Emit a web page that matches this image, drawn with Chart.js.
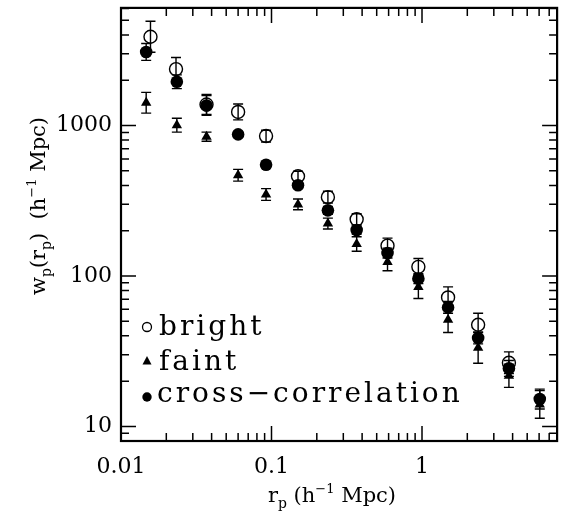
<!DOCTYPE html>
<html>
<head>
<meta charset="utf-8">
<script src="https://cdn.jsdelivr.net/npm/chart.js@4.4.1/dist/chart.umd.min.js"></script>
<style>
  html, body { margin: 0; padding: 0; background: #fff; }
  canvas { display: block; }
</style>
</head>
<body>
<canvas id="wp-chart" width="565" height="518"></canvas>
<script>
// projected separation bins (h^-1 Mpc)
var rp = [0.0147, 0.0235, 0.037, 0.060, 0.092, 0.150, 0.237, 0.368, 0.59, 0.946, 1.49, 2.36, 3.78, 6.06];
var rpBright = [0.0157, 0.0232, 0.037, 0.060, 0.092, 0.150, 0.237, 0.368, 0.59, 0.946, 1.49, 2.36, 3.78];

// w_p values
var wpBright = [3890, 2371, 1380, 1231, 851, 460, 334, 238, 159, 115, 72, 47.4, 26.5];
var wpFaint = [1417, 1005, 843, 467, 348, 299, 223, 163, 124, 84.6, 51.1, 33.3, 21.7, 14.0];
var wpCross = [3083, 1954, 1360, 873, 548, 401, 273, 202, 142, 96, 61.8, 38.7, 24.3, 15.2];

// error bars, half length in dex
var errBright = [0.103, 0.077, 0.066, 0.053, 0.039, 0.033, 0.039, 0.037, 0.050, 0.055, 0.070, 0.076, 0.072];
var errFaint = [0.069, 0.046, 0.030, 0.039, 0.039, 0.036, 0.036, 0.048, 0.059, 0.077, 0.084, 0.103, 0.077, 0.092];
var errCross = [0.056, 0.046, 0.066, 0.020, 0.020, 0.020, 0.026, 0.026, 0.033, 0.033, 0.039, 0.039, 0.053, 0.066];

var seriesNames = ["bright", "faint", "cross\u2212correlation"];

var xTicks = [0.01,0.02,0.03,0.04,0.05,0.06,0.07,0.08,0.09,0.1,0.2,0.3,0.4,0.5,0.6,0.7,0.8,0.9,1,2,3,4,5,6,7];
var yTicks = [8,9,10,20,30,40,50,60,70,80,90,100,200,300,400,500,600,700,800,900,1000,2000,3000,4000,5000,6000];

var serif = "'DejaVu Serif', 'Liberation Serif', serif";

function pts(xs, ys) {
  return ys.map(function (y, i) { return { x: xs[i], y: y }; });
}
function isMajor(v) {
  var l = Math.log10(v);
  return Math.abs(l - Math.round(l)) < 1e-6;
}

// error bars drawn under the markers
var errorBars = {
  id: 'errorBars',
  beforeDatasetsDraw: function (chart) {
    var ctx = chart.ctx, xs = chart.scales.x, ys = chart.scales.y;
    ctx.save();
    ctx.strokeStyle = '#000';
    ctx.lineWidth = 1.4;
    chart.data.datasets.forEach(function (ds) {
      ds.data.forEach(function (p, i) {
        var e = ds.errs[i];
        var px = xs.getPixelForValue(p.x);
        var top = ys.getPixelForValue(p.y * Math.pow(10, e));
        var bot = ys.getPixelForValue(p.y / Math.pow(10, e));
        ctx.beginPath();
        ctx.moveTo(px, top); ctx.lineTo(px, bot);
        ctx.moveTo(px - 5, top); ctx.lineTo(px + 5, top);
        ctx.moveTo(px - 5, bot); ctx.lineTo(px + 5, bot);
        ctx.stroke();
      });
    });
    ctx.restore();
  }
};

// frame, inward ticks, axis titles, legend
var frame = {
  id: 'frame',
  afterDraw: function (chart) {
    var ctx = chart.ctx, a = chart.chartArea;
    var xs = chart.scales.x, ys = chart.scales.y;
    ctx.save();
    ctx.strokeStyle = '#000';
    ctx.lineWidth = 1.5;
    ctx.beginPath();
    xs.ticks.forEach(function (t) {
      var px = xs.getPixelForValue(t.value), len = isMajor(t.value) ? 15 : 8;
      ctx.moveTo(px, a.bottom); ctx.lineTo(px, a.bottom - len);
      ctx.moveTo(px, a.top); ctx.lineTo(px, a.top + len);
    });
    ys.ticks.forEach(function (t) {
      var py = ys.getPixelForValue(t.value), len = isMajor(t.value) ? 15 : 8;
      ctx.moveTo(a.left, py); ctx.lineTo(a.left + len, py);
      ctx.moveTo(a.right, py); ctx.lineTo(a.right - len, py);
    });
    ctx.stroke();
    ctx.lineWidth = 2.2;
    ctx.strokeRect(a.left, a.top, a.right - a.left, a.bottom - a.top);

    // axis titles with sub/superscripts
    ctx.fillStyle = '#000';
    ctx.textBaseline = 'alphabetic';
    function rich(parts) {
      var w = 0;
      parts.forEach(function (p) { ctx.font = p[1] + 'px ' + serif; w += ctx.measureText(p[0]).width; });
      return w;
    }
    function drawRich(parts, x0, y0) {
      var x = x0;
      parts.forEach(function (p) {
        ctx.font = p[1] + 'px ' + serif;
        ctx.fillText(p[0], x, y0 + p[2]);
        x += ctx.measureText(p[0]).width;
      });
    }
    var xTitle = [["r", 21, 0], ["p", 14, 6], [" (h", 21, 0], ["\u22121", 13, -9], [" Mpc)", 21, 0]];
    var wx = rich(xTitle);
    drawRich(xTitle, 332 - wx / 2, 502);

    var yTitle = [["w", 21, 0], ["p", 14, 6], ["(r", 21, 0], ["p", 14, 6], [")  (h", 21, 0], ["\u22121", 13, -9], [" Mpc)", 21, 0]];
    var wy = rich(yTitle);
    ctx.save();
    ctx.translate(45, 206);
    ctx.rotate(-Math.PI / 2);
    drawRich(yTitle, -wy / 2, 0);
    ctx.restore();

    // legend
    var lx = 147, rows = [327, 361, 397];
    ctx.lineWidth = 1.3;
    ctx.beginPath(); ctx.arc(lx, rows[0], 4.5, 0, Math.PI * 2); ctx.stroke();
    ctx.beginPath();
    ctx.moveTo(lx, rows[1] - 5); ctx.lineTo(lx + 4.5, rows[1] + 3.5); ctx.lineTo(lx - 4.5, rows[1] + 3.5);
    ctx.closePath(); ctx.fill();
    ctx.beginPath(); ctx.arc(lx, rows[2], 4.7, 0, Math.PI * 2); ctx.fill();
    ctx.font = '28px ' + serif;
    if ('letterSpacing' in ctx) ctx.letterSpacing = '3px';
    ctx.fillText(seriesNames[0], 159, 335);
    ctx.fillText(seriesNames[1], 159, 370);
    ctx.fillText(seriesNames[2], 157, 402);
    ctx.restore();
  }
};

new Chart(document.getElementById("wp-chart"), {
  type: 'scatter',
  data: {
    datasets: [{
        label: seriesNames[0],
        data: pts(rpBright, wpBright),
        errs: errBright,
        pointStyle: 'circle',
        pointRadius: 6.5,
        borderWidth: 1.4,
        borderColor: '#000',
        backgroundColor: 'rgba(0,0,0,0)'
      },
      {
        label: seriesNames[1],
        data: pts(rp, wpFaint),
        errs: errFaint,
        pointStyle: 'triangle',
        pointRadius: 6,
        borderWidth: 0,
        borderColor: '#000',
        backgroundColor: '#000'
      },
      {
        label: seriesNames[2],
        data: pts(rp, wpCross),
        errs: errCross,
        pointStyle: 'circle',
        pointRadius: 6.3,
        borderWidth: 0,
        borderColor: '#000',
        backgroundColor: '#000'
      }
    ]
  },
  options: {
    responsive: false,
    animation: false,
    devicePixelRatio: 1,
    layout: { padding: { top: 3, right: 5, left: 0, bottom: 0 } },
    plugins: { legend: { display: false }, tooltip: { enabled: false } },
    scales: {
      x: {
        type: 'logarithmic',
        min: 0.01,
        max: 7.9,
        grid: { display: false, drawTicks: false },
        border: { display: false },
        afterBuildTicks: function (s) { s.ticks = xTicks.map(function (v) { return { value: v }; }); },
        afterFit: function (s) { s.height = 77; s.paddingLeft = 0; s.paddingRight = 0; },
        ticks: {
          autoSkip: false,
          maxRotation: 0,
          padding: 13,
          color: '#000',
          font: { family: serif, size: 22 },
          callback: function (v) { return isMajor(v) ? String(+v.toPrecision(3)) : ''; }
        }
      },
      y: {
        type: 'logarithmic',
        min: 8,
        max: 6050,
        grid: { display: false, drawTicks: false },
        border: { display: false },
        afterBuildTicks: function (s) { s.ticks = yTicks.map(function (v) { return { value: v }; }); },
        afterFit: function (s) { s.width = 121; s.paddingTop = 0; s.paddingBottom = 0; },
        ticks: {
          autoSkip: false,
          padding: 9,
          color: '#000',
          font: { family: serif, size: 22 },
          callback: function (v) { return isMajor(v) ? String(Math.round(v)) : ''; }
        }
      }
    }
  },
  plugins: [errorBars, frame]
});
</script>
</body>
</html>
